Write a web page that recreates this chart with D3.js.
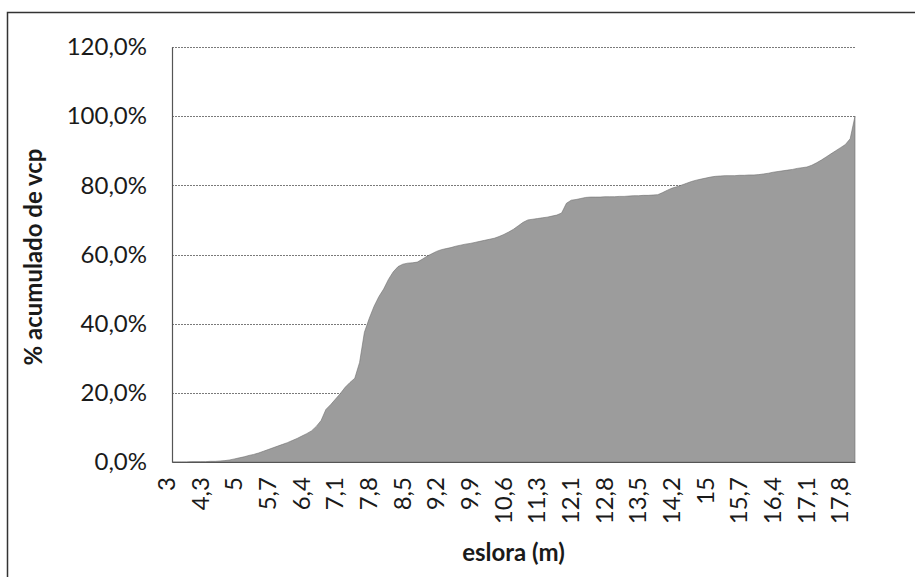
<!DOCTYPE html>
<html>
<head>
<meta charset="utf-8">
<script src="https://cdn.jsdelivr.net/npm/d3@7"></script>
<style>
    body { margin: 0; background: #fff; }
    text { font-family: Lato, 'Open Sans', sans-serif; fill: #1a1a1a; }
</style>
</head>
<body>
<div id="chart"></div>
<script>
// eslora (m) categories, as they appear on the axis
var eslora = [
    3, 3.2, 3.5, 3.6, 3.8, 4, 4.2, 4.3, 4.4, 4.5,
    4.6, 4.7, 4.8, 4.9, 5, 5.1, 5.2, 5.3, 5.4, 5.5,
    5.6, 5.7, 5.8, 5.9, 6, 6.1, 6.2, 6.3, 6.4, 6.5,
    6.6, 6.7, 6.8, 6.9, 7, 7.1, 7.2, 7.3, 7.4, 7.5,
    7.6, 7.7, 7.8, 7.9, 8, 8.1, 8.2, 8.3, 8.4, 8.5,
    8.6, 8.7, 8.8, 8.9, 9, 9.1, 9.2, 9.3, 9.4, 9.5,
    9.6, 9.7, 9.8, 9.9, 10, 10.1, 10.2, 10.3, 10.4, 10.5,
    10.6, 10.7, 10.8, 10.9, 11, 11.1, 11.2, 11.3, 11.4, 11.5,
    11.6, 11.7, 11.8, 12, 12.1, 12.2, 12.3, 12.4, 12.5, 12.6,
    12.7, 12.8, 12.9, 13, 13.1, 13.2, 13.3, 13.4, 13.5, 13.6,
    13.7, 13.8, 13.9, 14, 14.1, 14.2, 14.3, 14.4, 14.5, 14.7,
    14.8, 14.9, 15, 15.1, 15.2, 15.3, 15.4, 15.5, 15.6, 15.7,
    15.8, 15.9, 16, 16.1, 16.2, 16.3, 16.4, 16.5, 16.6, 16.7,
    16.8, 16.9, 17, 17.1, 17.2, 17.3, 17.4, 17.5, 17.6, 17.7,
    17.8, 17.9, 18
];

// % acumulado de vcp
var acumulado = [
    0.0, 0.0, 0.0, 0.0, 0.1, 0.1, 0.1, 0.1, 0.2, 0.2,
    0.3, 0.4, 0.6, 0.9, 1.2, 1.5, 1.9, 2.2, 2.6, 3.1,
    3.6, 4.1, 4.6, 5.1, 5.6, 6.2, 6.8, 7.5, 8.2, 9.0,
    10.3, 12.0, 15.2, 16.6, 18.2, 19.8, 21.6, 23.0, 24.2, 28.8,
    37.5, 41.5, 45.0, 47.8, 50.0, 52.8, 55.0, 56.5, 57.2, 57.5,
    57.6, 57.8, 58.6, 59.5, 60.2, 60.9, 61.4, 61.7, 62.0, 62.4,
    62.7, 63.0, 63.2, 63.5, 63.8, 64.1, 64.4, 64.7, 65.2, 65.8,
    66.5, 67.3, 68.3, 69.3, 70.0, 70.2, 70.4, 70.6, 70.8, 71.1,
    71.4, 72.0, 74.8, 75.7, 75.9, 76.2, 76.5, 76.6, 76.6, 76.6,
    76.7, 76.7, 76.7, 76.8, 76.8, 76.9, 77.0, 77.0, 77.1, 77.1,
    77.2, 77.3, 77.9, 78.6, 79.2, 79.6, 80.1, 80.6, 81.1, 81.5,
    81.8, 82.1, 82.4, 82.6, 82.7, 82.8, 82.8, 82.8, 82.9, 82.9,
    83.0, 83.0, 83.1, 83.3, 83.5, 83.8, 84.0, 84.2, 84.4, 84.6,
    84.9, 85.1, 85.3, 85.8, 86.5, 87.3, 88.2, 89.1, 90.0, 90.9,
    91.8, 93.5, 100.0
];

var yTicks = [0, 20, 40, 60, 80, 100, 120];
var labelEvery = 7;

( function(){
    var W = 915, H = 577,
        mLeft = 172, mRight = 855, mTop = 47, mBottom = 462;

    var fmt = function( v ){ return String( v ).replace( '.', ',' ); };

    var svg = d3.select( '#chart' )
        .append( 'svg' )
        .attr( 'width', W )
        .attr( 'height', H );

    // outer frame (left + top edges visible in the scan)
    svg.append( 'path' )
        .attr( 'd', 'M7.5 ' + H + ' V12.5 H' + W )
        .attr( 'fill', 'none' )
        .attr( 'stroke', '#333' )
        .attr( 'stroke-width', 1.5 );

    var x = d3.scalePoint()
        .domain( d3.range( eslora.length ) )
        .range( [ mLeft, mRight ] );

    var y = d3.scaleLinear()
        .domain( [ 0, 120 ] )
        .range( [ mBottom, mTop ] );

    // gridlines
    svg.append( 'g' )
        .selectAll( 'line' )
        .data( yTicks.filter( function( d ){ return d > 0; } ) )
        .join( 'line' )
        .attr( 'x1', mLeft )
        .attr( 'x2', mRight )
        .attr( 'y1', function( d ){ return Math.round( y( d ) ) + 0.5; } )
        .attr( 'y2', function( d ){ return Math.round( y( d ) ) + 0.5; } )
        .attr( 'stroke', '#7a7a7a' )
        .attr( 'stroke-width', 1 )
        .attr( 'stroke-dasharray', '2,1' );

    // area
    var area = d3.area()
        .x( function( d, i ){ return x( i ); } )
        .y0( mBottom )
        .y1( function( d ){ return y( d ); } );

    svg.append( 'path' )
        .datum( acumulado )
        .attr( 'd', area )
        .attr( 'fill', '#9c9c9c' )
        .attr( 'stroke', '#6f6f6f' )
        .attr( 'stroke-width', 0.6 );

    // y axis
    var yAxis = svg.append( 'g' )
        .attr( 'transform', 'translate(' + mLeft + ',0)' )
        .call( d3.axisLeft( y )
            .tickValues( yTicks )
            .tickSize( 0 )
            .tickPadding( 25 )
            .tickFormat( function( d ){ return fmt( d.toFixed( 1 ) ) + '%'; } ) );

    yAxis.select( '.domain' )
        .attr( 'stroke', '#555' )
        .attr( 'stroke-width', 1.2 );

    yAxis.selectAll( 'text' )
        .attr( 'font-size', 24 )
        .attr( 'font-family', 'Lato, sans-serif' )
        .attr( 'fill', '#1a1a1a' );

    // x axis
    var xAxis = svg.append( 'g' )
        .attr( 'transform', 'translate(0,' + mBottom + ')' )
        .call( d3.axisBottom( x )
            .tickValues( x.domain().filter( function( i ){ return i % labelEvery === 0; } ) )
            .tickSize( 0 )
            .tickFormat( function( i ){ return fmt( eslora[ i ] ); } ) );

    xAxis.select( '.domain' )
        .attr( 'stroke', '#555' )
        .attr( 'stroke-width', 1.2 );

    xAxis.selectAll( 'text' )
        .attr( 'font-size', 24 )
        .attr( 'font-family', 'Lato, sans-serif' )
        .attr( 'fill', '#1a1a1a' )
        .attr( 'text-anchor', 'end' )
        .attr( 'transform', 'translate(-6,15) rotate(-90)' )
        .attr( 'x', 0 )
        .attr( 'y', 0 )
        .attr( 'dy', '0.35em' );

    // axis titles
    svg.append( 'text' )
        .attr( 'x', ( mLeft + mRight ) / 2 )
        .attr( 'y', 561 )
        .attr( 'text-anchor', 'middle' )
        .attr( 'font-size', 24 )
        .attr( 'font-weight', 'bold' )
        .text( 'eslora (m)' );

    svg.append( 'text' )
        .attr( 'transform', 'translate(42,257) rotate(-90)' )
        .attr( 'text-anchor', 'middle' )
        .attr( 'font-size', 24 )
        .attr( 'font-weight', 'bold' )
        .text( '% acumulado de vcp' );
} )();
</script>
</body>
</html>
